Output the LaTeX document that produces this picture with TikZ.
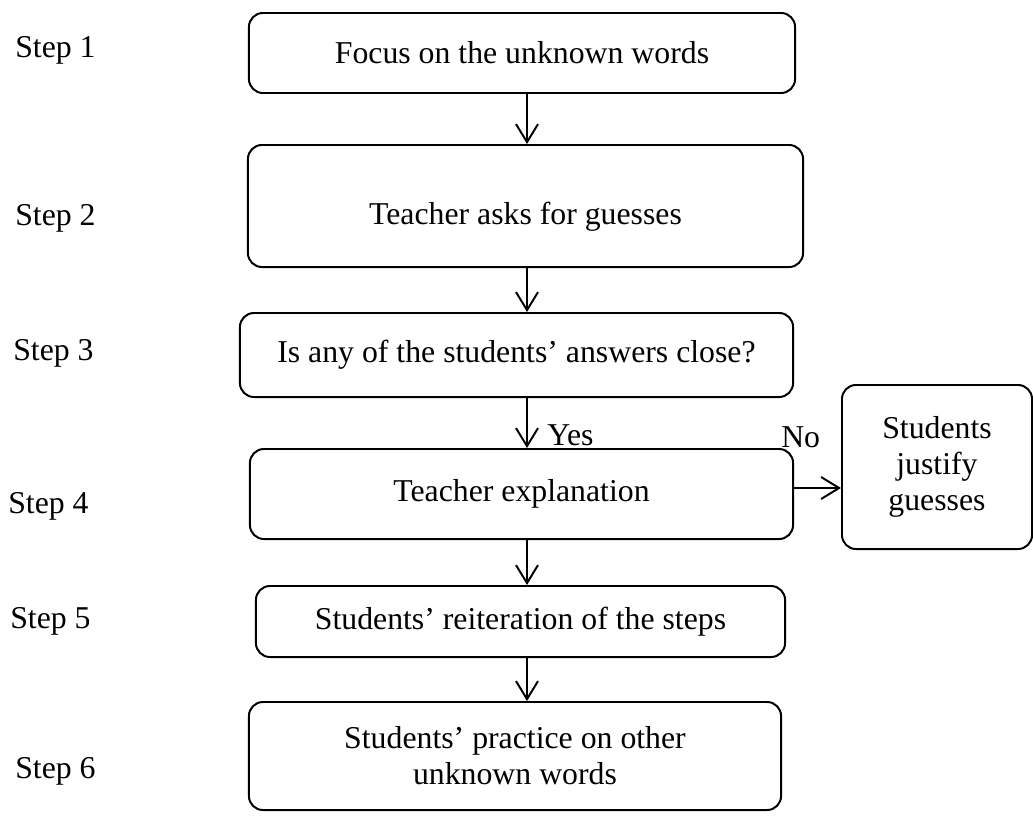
\documentclass[tikz,border=0pt]{standalone}
\usepackage{fontspec}
\setmainfont{Liberation Serif}
\usetikzlibrary{positioning,arrows.meta}
\tikzset{
    flowBox/.style={
        rectangle,
        draw,
        line width=1.4pt,
        rounded corners=0.35cm,
        align=center,
        inner sep=2pt,
        font=\fontsize{22.6}{25.6}\selectfont
    },
    stepLabel/.style={font=\fontsize{22.6}{25.6}\selectfont, anchor=west, inner sep=0pt},
    flowArrow/.style={-{Straight Barb[length=4.5mm,width=5.5mm]}, line width=1.4pt}
}
\begin{document}
\begin{tikzpicture}[x=0.025cm, y=-0.025cm]
\useasboundingbox (0,0) rectangle (1033,816);
\coordinate (axis) at (527,0);

% Flow boxes
\node[flowBox, minimum width=13.65cm, minimum height=2cm] (focus) at (522,53) {Focus on the unknown words};
\node[flowBox, minimum width=13.875cm, minimum height=3.05cm, text height=1.1cm, text depth=0.17cm] (guess) at (525.5,206) {Teacher asks for guesses};
\node[flowBox, minimum width=13.825cm, minimum height=2.1cm] (close) at (516.5,355) {Is any of the students’ answers close?};
\node[flowBox, minimum width=13.575cm, minimum height=2.25cm] (explain) at (521.5,494) {Teacher explanation};
\node[flowBox, minimum width=13.225cm, minimum height=1.775cm] (reiter) at (520.5,621.5) {Students’ reiteration of the steps};
\node[flowBox, minimum width=13.3cm, minimum height=2.7cm] (practice) at (515,756) {Students’ practice on other\\unknown words};
\node[flowBox, minimum width=4.75cm, minimum height=4.1cm] (justify) at (937,467) {Students\\justify\\guesses};

% Step labels
\node[stepLabel] (s1) at (15,50) {Step 1};
\node[stepLabel] (s2) at (15,218) {Step 2};
\node[stepLabel] (s3) at (13,353) {Step 3};
\node[stepLabel] (s4) at (8,506) {Step 4};
\node[stepLabel] (s5) at (10,621) {Step 5};
\node[stepLabel] (s6) at (15,771) {Step 6};

% Connectors
\draw[flowArrow] (focus.south -| axis) -- (guess.north -| axis);
\draw[flowArrow] (guess.south -| axis) -- (close.north -| axis);
\draw[flowArrow] (close.south -| axis) -- (explain.north -| axis);
\draw[flowArrow] (explain.south -| axis) -- (reiter.north -| axis);
\draw[flowArrow] (reiter.south -| axis) -- (practice.north -| axis);
\draw[flowArrow] ([yshift=0.15cm]explain.east) -- ([yshift=0.15cm]explain.east -| justify.west);

\node[stepLabel] (yes) at (547,435) {Yes};
\node[stepLabel] (no) at (781,437) {No};
\end{tikzpicture}
\end{document}
